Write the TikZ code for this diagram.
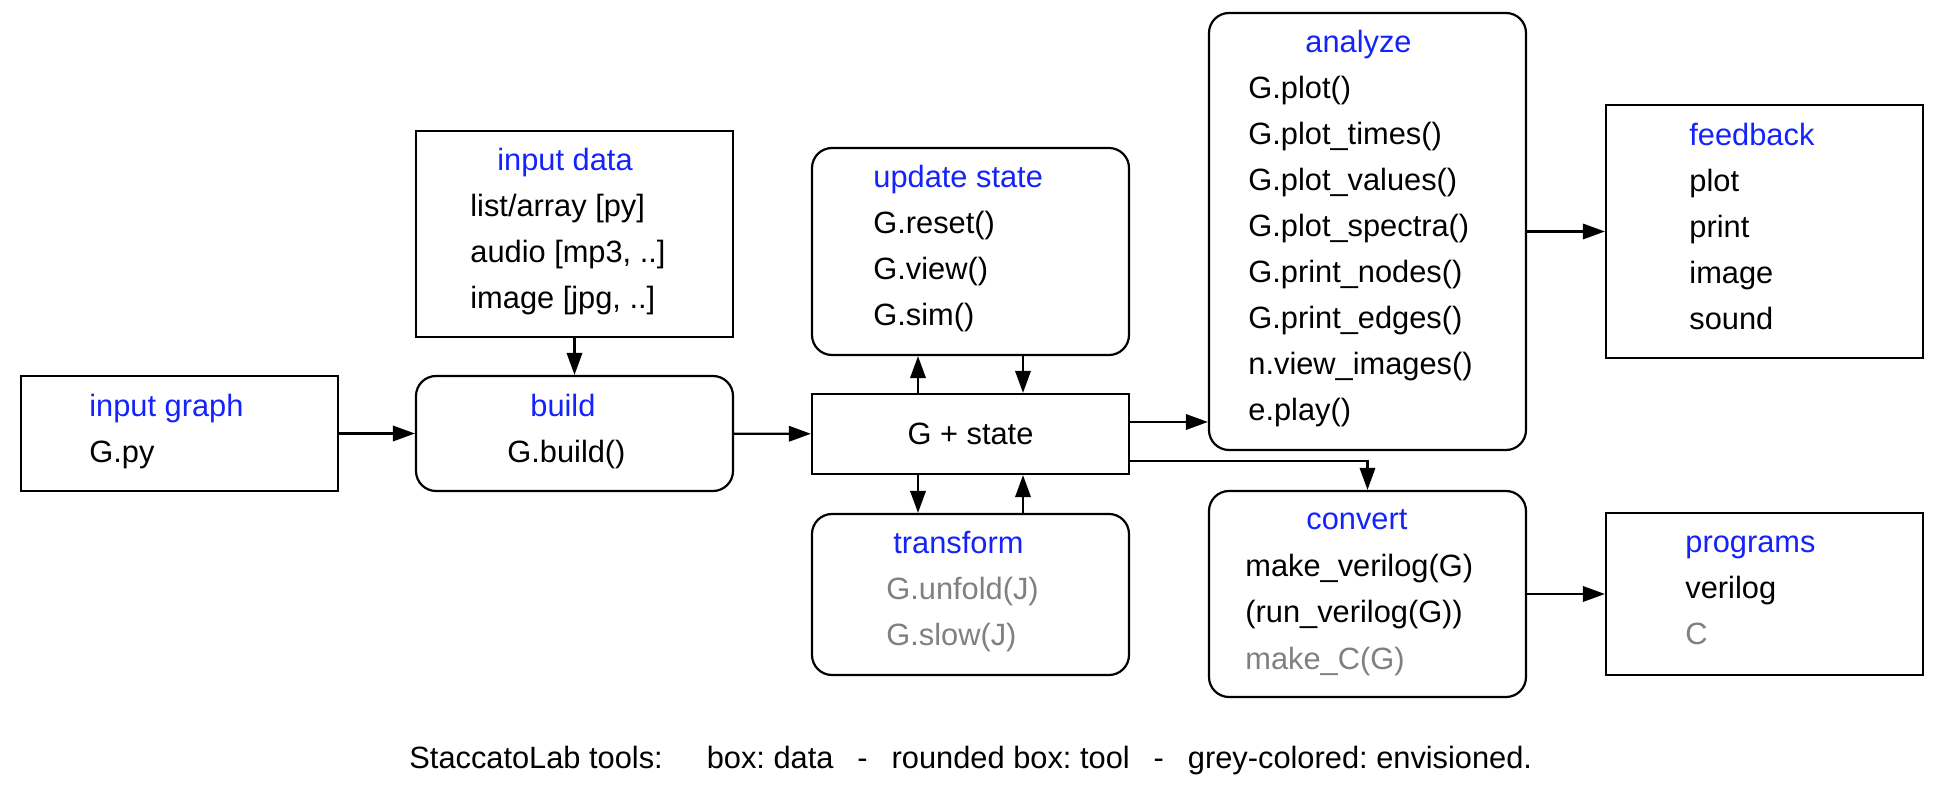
\documentclass[tikz,border=0pt]{standalone}
\usepackage{fontspec}
\setmainfont{Liberation Sans}
\usetikzlibrary{arrows.meta}
\definecolor{ttlblue}{RGB}{20,35,250}
\definecolor{envgrey}{RGB}{128,128,128}
\frenchspacing
\begin{document}
\begin{tikzpicture}[x=0.5pt,y=-0.5pt,
  every node/.style={font=\fontsize{15.4pt}{23pt}\selectfont},
  databox/.style={draw, line width=1.1pt, minimum width=158.5pt, inner sep=0pt},
  toolbox/.style={databox, rounded corners=10pt},
  ttl/.style={anchor=base west, inner sep=0pt, text=ttlblue},
  itm/.style={anchor=base west, inner sep=0pt},
  envi/.style={itm, text=envgrey},
  arr/.style={-{Triangle[length=11pt,width=7.7pt]}, line width=1.1pt}]
\useasboundingbox (0,0) rectangle (1954,790);

% boxes
\node[databox, minimum height=57.5pt] (ig) at (179.5,433.5) {};
\node[toolbox, minimum height=57.5pt] (bd) at (574.5,433.5) {};
\node[databox, minimum height=103pt] (id) at (574.5,234) {};
\node[toolbox, minimum height=103.5pt] (us) at (970.5,251.5) {};
\node[databox, minimum height=40pt] (gs) at (970.5,434) {G + state};
\node[toolbox, minimum height=80.5pt] (tf) at (970.5,594.5) {};
\node[toolbox, minimum height=218.5pt] (an) at (1367.5,231.5) {};
\node[databox, minimum height=126.5pt] (fb) at (1764.5,231.5) {};
\node[toolbox, minimum height=103pt] (cv) at (1367.5,594) {};
\node[databox, minimum height=81pt] (pg) at (1764.5,594) {};

% input graph
\node[ttl] (igt) at (89,417) {input graph};
\node[itm] (ig1) at (89,463) {G.py};
% build
\node[ttl] (bdt) at (530,417) {build};
\node[itm] (bd1) at (507,463) {G.build()};
% input data
\node[ttl] (idt) at (497,171) {input data};
\node[itm] (id1) at (470,217) {list/array [py]};
\node[itm] (id2) at (470,263) {audio [mp3, ..]};
\node[itm] (id3) at (470,309) {image [jpg, ..]};
% update state
\node[ttl] (ust) at (873,188) {update state};
\node[itm] (us1) at (873,234) {G.reset()};
\node[itm] (us2) at (873,280) {G.view()};
\node[itm] (us3) at (873,326) {G.sim()};
% transform
\node[ttl] (tft) at (893,554) {transform};
\node[envi] (tf1) at (886,600) {G.unfold(J)};
\node[envi] (tf2) at (886,646) {G.slow(J)};
% analyze
\node[ttl] (ant) at (1305,53) {analyze};
\node[itm] (an1) at (1248,99) {G.plot()};
\node[itm] (an2) at (1248,145) {G.plot\_times()};
\node[itm] (an3) at (1248,191) {G.plot\_values()};
\node[itm] (an4) at (1248,237) {G.plot\_spectra()};
\node[itm] (an5) at (1248,283) {G.print\_nodes()};
\node[itm] (an6) at (1248,329) {G.print\_edges()};
\node[itm] (an7) at (1248,375) {n.view\_images()};
\node[itm] (an8) at (1248,421) {e.play()};
% feedback
\node[ttl] (fbt) at (1689,146) {feedback};
\node[itm] (fb1) at (1689,192) {plot};
\node[itm] (fb2) at (1689,238) {print};
\node[itm] (fb3) at (1689,284) {image};
\node[itm] (fb4) at (1689,330) {sound};
% convert
\node[ttl] (cvt) at (1306,530) {convert};
\node[itm] (cv1) at (1245,577) {make\_verilog(G)};
\node[itm] (cv2) at (1245,623) {(run\_verilog(G))};
\node[envi] (cv3) at (1245,669) {make\_C(G)};
% programs
\node[ttl] (pgt) at (1685,553) {programs};
\node[itm] (pg1) at (1685,599) {verilog};
\node[envi] (pg2) at (1685,645) {C};

% legend
\node[itm] (legend) at (409,768) {StaccatoLab tools:\hspace{22pt}box: data\hspace{12pt}-\hspace{12pt}rounded box: tool\hspace{12pt}-\hspace{12pt}grey-colored: envisioned.};

% connectors
\draw[arr] (ig) -- (bd);
\draw[arr] (id) -- (bd);
\draw[arr] (bd) -- (gs);
\draw[arr] ([xshift=-26.25pt]gs.north) -- ([xshift=-26.25pt]us.south);
\draw[arr] ([xshift=26.25pt]us.south) -- ([xshift=26.25pt]gs.north);
\draw[arr] ([xshift=-26.25pt]gs.south) -- ([xshift=-26.25pt]tf.north);
\draw[arr] ([xshift=26.25pt]tf.north) -- ([xshift=26.25pt]gs.south);
\draw[arr] ([yshift=6pt]gs.east) -- ([yshift=6pt]gs.east -| an.west);
\draw[arr] ([yshift=-13.5pt]gs.east) -| (cv.north);
\draw[arr] (an) -- (fb);
\draw[arr] (cv) -- (pg);
\end{tikzpicture}
\end{document}
